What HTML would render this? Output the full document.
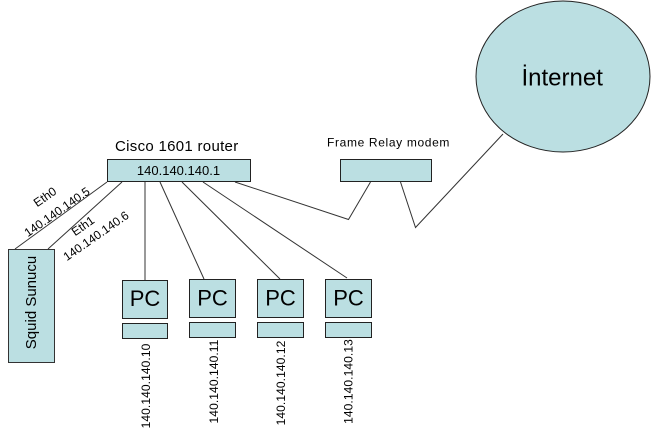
<!DOCTYPE html>
<html>
<head>
<meta charset="utf-8">
<style>
html,body{margin:0;padding:0;background:#fff;}
svg{display:block;}
text{font-family:"Liberation Sans",Arial,sans-serif;fill:#000;}
</style>
</head>
<body>
<svg width="652" height="441" viewBox="0 0 652 441" xmlns="http://www.w3.org/2000/svg">
  <!-- Internet -->
  <ellipse cx="563" cy="76.5" rx="87" ry="75.5" fill="#bbdfe2" stroke="#222" stroke-width="1"/>
  <text x="521.5" y="85.5" font-size="24">İnternet</text>

  <!-- connector lines -->
  <g stroke="#333" stroke-width="1" fill="none">
    <line x1="107" y1="182" x2="15" y2="249"/>
    <line x1="122" y1="182" x2="48" y2="249"/>
    <line x1="145" y1="182" x2="145" y2="280"/>
    <line x1="160" y1="182" x2="204" y2="279"/>
    <line x1="182" y1="182" x2="280" y2="279"/>
    <line x1="203" y1="182" x2="347" y2="278"/>
    <polyline points="235,182 348.5,219.5 370.5,182"/>
    <polyline points="400.5,182 415.5,227.5 503,134"/>
  </g>

  <!-- Router -->
  <text x="115" y="151" font-size="15" letter-spacing="0.3">Cisco 1601 router</text>
  <rect x="107.5" y="159.5" width="143" height="22" fill="#bbdfe2" stroke="#222" stroke-width="1"/>
  <text x="178.5" y="175" font-size="13" text-anchor="middle">140.140.140.1</text>

  <!-- Frame relay -->
  <text x="327" y="146.5" font-size="12" letter-spacing="0.65">Frame Relay modem</text>
  <rect x="340.5" y="159.5" width="91" height="22" fill="#bbdfe2" stroke="#222" stroke-width="1"/>

  <!-- Squid -->
  <rect x="8.5" y="249.5" width="46" height="113" fill="#bbdfe2" stroke="#333" stroke-width="1"/>
  <text transform="translate(36,302.5) rotate(-90)" font-size="15" text-anchor="middle">Squid Sunucu</text>

  <!-- Eth labels -->
  <text transform="translate(45,197) rotate(-35)" y="4" font-size="12" text-anchor="middle">Eth0</text>
  <text transform="translate(57,212) rotate(-35)" y="4" font-size="12" text-anchor="middle">140.140.140.5</text>
  <text transform="translate(83,226) rotate(-35)" y="4" font-size="12" text-anchor="middle">Eth1</text>
  <text transform="translate(96,236) rotate(-35)" y="4" font-size="12" text-anchor="middle">140.140.140.6</text>

  <!-- PCs -->
  <g fill="#bbdfe2" stroke="#222" stroke-width="1">
    <rect x="122.5" y="280.5" width="45" height="38"/>
    <rect x="122.5" y="323.5" width="45" height="15"/>
    <rect x="189.5" y="279.5" width="46" height="38"/>
    <rect x="189.5" y="322.5" width="46" height="15"/>
    <rect x="257.5" y="279.5" width="46" height="38"/>
    <rect x="257.5" y="322.5" width="46" height="15"/>
    <rect x="325.5" y="279.5" width="46" height="38"/>
    <rect x="325.5" y="322.5" width="46" height="15"/>
  </g>
  <g font-size="22" text-anchor="middle">
    <text x="145" y="306">PC</text>
    <text x="212.5" y="305.5">PC</text>
    <text x="280.5" y="305.5">PC</text>
    <text x="348.5" y="305.5">PC</text>
  </g>

  <!-- PC IP labels -->
  <g font-size="12" text-anchor="middle">
    <text transform="translate(150,386) rotate(-90)" letter-spacing="0.1">140.140.140.10</text>
    <text transform="translate(218,381.5) rotate(-90)" letter-spacing="0.1">140.140.140.11</text>
    <text transform="translate(285,383) rotate(-90)" letter-spacing="0.1">140.140.140.12</text>
    <text transform="translate(352.5,381.5) rotate(-90)" letter-spacing="0.1">140.140.140.13</text>
  </g>
</svg>
</body>
</html>
